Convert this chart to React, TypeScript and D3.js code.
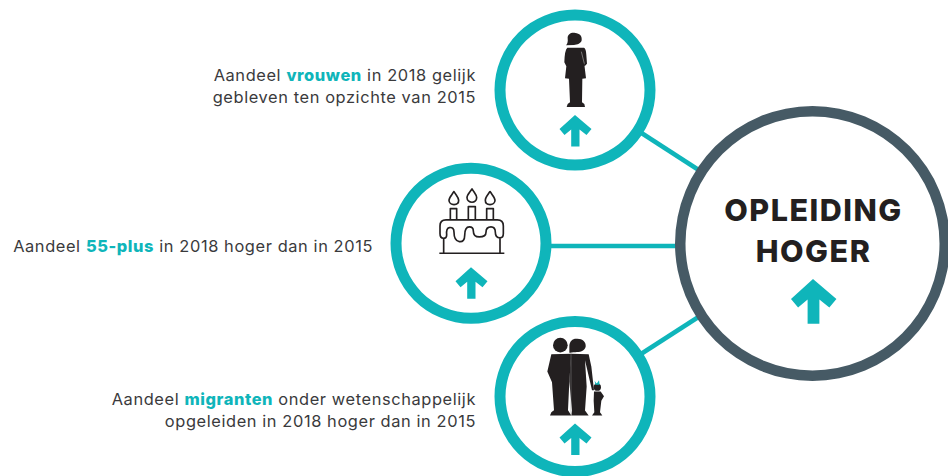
import * as d3 from 'd3';

const groups = ['vrouwen', '55-plus', 'migranten'];
const groupX = [575, 471, 575];
const arrowOffset = [25, 24, 27];
const captions = [
  [['Aandeel ', 'vrouwen', ' in 2018 gelijk'], ['gebleven ten opzichte van 2015']],
  [['Aandeel ', '55-plus', ' in 2018 hoger dan in 2015']],
  [['Aandeel ', 'migranten', ' onder wetenschappelijk'], ['opgeleiden in 2018 hoger dan in 2015']],
];
const captionRight = [476, 373, 476];
const captionBase = [81, 252, 405];
const mainTitle = ['OPLEIDING', 'HOGER'];

const TEAL = '#0fb5ba';
const SLATE = '#465a65';
const INK = '#231f20';
const TEXT = '#3a3a3c';

const width = 948;
const height = 476;
const main = { x: 812.5, y: 243.5, r: 137.5 };

const rowY = d3.scalePoint<string>().domain(groups).range([90, 396.5]);
const ring = d3.arc<any>().startAngle(0).endAngle(2 * Math.PI);
const link = d3.line<number[]>();

// upward arrow, drawn around its own tip
const arrowShape: [number, number][] = [
  [0, 0], [-15.5, 14], [-10.5, 20], [-3.8, 14.5], [-3.8, 31.5], [4.5, 31.5],
  [4.5, 14.5], [11.5, 20], [16.5, 14],
];
const arrowPath = d3.line().curve(d3.curveLinearClosed)(arrowShape) as string;

const Arrow = ({ x, y, k = 1 }: { x: number; y: number; k?: number }) => (
  <path d={arrowPath} transform={`translate(${x},${y}) scale(${k})`} fill={TEAL} />
);

// icons are traced at 3x, around the centre of the circle
const Woman = () => (
  <g fill={INK}>
    <path d="M233,100 C232,86 246,81 256,84 C268,85 277,92 275,106 C273,116 262,119 252,120 L228,121 C233,116 234,110 233,100 Z" />
    <path d="M232,128 L282,128 Q288,130 289,150 L291,176 L284,184 L282,170 L288,220 L277,221 L276,292 L283,297 L285,306 L230,306 L233,297 L240,292 L237,221 L225,220 L229,184 L223,172 Q224,135 232,128 Z" />
    <path d="M274,140 L283,176" stroke="#fff" strokeWidth={1.2} fill="none" />
  </g>
);

const Cake = () => (
  <g fill="none" stroke={INK} strokeWidth={5} strokeLinejoin="round">
    <path d="M204,100 C196,112 189,118 189,126 C189,134 196,139 204,139 C212,139 218,134 218,126 C218,118 211,112 204,100 Z" />
    <path d="M258,92 C250,104 243,110 243,118 C243,126 250,132 258,132 C266,132 272,126 272,118 C272,110 265,104 258,92 Z" />
    <path d="M312,100 C304,112 298,118 298,126 C298,134 304,139 312,139 C320,139 327,134 327,126 C327,118 320,112 312,100 Z" />
    <path d="M193,185 V151 H212 V185 M247,185 V145 H268 V185 M302,185 V151 H322 V185" />
    <path d="M162,203 Q162,185 180,185 H334 Q352,185 352,203 V226 Q352,239 342,239 Q328,239 328,222 Q328,206 315,206 Q300,206 300,222 Q300,236 280,236 Q262,236 262,218 Q262,206 250,206 Q236,206 236,232 Q236,252 220,250 Q204,248 204,222 Q204,206 190,208 Q180,210 182,230 Q182,240 172,240 Q162,240 162,226 Z" />
    <path d="M173,240 V285 M342,240 V285 M160,285 H355" />
  </g>
);

const Family = () => (
  <g fill={INK}>
    <circle cx={211} cy={101} r={22} />
    <path d="M238,105 C238,88 250,80 262,82 C278,82 289,92 287,106 C284,120 268,122 256,122 C248,122 241,124 238,124 Z" />
    <path d="M184,128 L244,127 L238,210 L234,296 L244,312 L180,312 L184,302 L192,296 L186,212 L172,180 Z" />
    <path d="M242,127 L296,128 L304,165 L312,236 L306,236 L285,146 L290,225 L285,297 L296,312 L244,312 L246,297 L238,210 Z" />
    <path d="M243,128 L243,312" stroke="#8a8889" strokeWidth={1.5} fill="none" />
    <circle cx={322} cy={227} r={11} />
    <path d="M312,240 L332,240 L342,254 L334,268 L330,302 L337,312 L306,312 L313,302 L311,268 Z" />
    <path d="M314,208 L320,217 L327,206 L329,220 L316,220 Z" fill={TEAL} />
  </g>
);

const icons = [Woman, Cake, Family];

export default function App() {
  return (
    <svg width={width} height={height} style={{ position: 'absolute', left: 0, top: 0, background: '#fff' }}>
      {groups.map((g, i) => {
        const cy = rowY(g) as number;
        // the middle link runs level, a little under the circle centres
        const y0 = i === 1 ? 246 : cy;
        const y1 = i === 1 ? 246 : main.y;
        return <path key={g} d={link([[groupX[i], y0], [main.x, y1]]) as string} stroke={TEAL} strokeWidth={4.6} fill="none" />;
      })}

      {groups.map((g, i) => {
        const cy = rowY(g) as number;
        const Icon = icons[i];
        return (
          <g key={g}>
            <circle cx={groupX[i]} cy={cy} r={75} fill="#fff" />
            <path d={ring({ innerRadius: 69.5, outerRadius: 80.5 }) as string} transform={`translate(${groupX[i]},${cy})`} fill={TEAL} />
            <g transform={`translate(${groupX[i] - 85},${cy - 85}) scale(${1 / 3})`}>
              <Icon />
            </g>
            <Arrow x={groupX[i]} y={cy + arrowOffset[i]} />
            <text x={captionRight[i]} textAnchor="end" fontFamily="Inter, sans-serif" fontSize={16.4} letterSpacing={0.6} fill={TEXT}>
              {captions[i].map((line, l) => (
                <tspan key={l} x={captionRight[i]} y={captionBase[i] + l * 21.5}>
                  {line.map((part, p) =>
                    p === 1 ? <tspan key={p} fontWeight={800} fill={TEAL}>{part}</tspan> : <tspan key={p}>{part}</tspan>
                  )}
                </tspan>
              ))}
            </text>
          </g>
        );
      })}

      <circle cx={main.x} cy={main.y} r={132} fill="#fff" />
      <path d={ring({ innerRadius: 127, outerRadius: main.r }) as string} transform={`translate(${main.x},${main.y})`} fill={SLATE} />
      {mainTitle.map((t, i) => (
        <text key={t} x={813.5} y={221 + i * 41} textAnchor="middle" fontFamily="Inter, sans-serif" fontWeight={800} fontSize={30.5} letterSpacing={1.5} fill={INK}>
          {t}
        </text>
      ))}
      <Arrow x={813} y={279} k={1.42} />
    </svg>
  );
}
